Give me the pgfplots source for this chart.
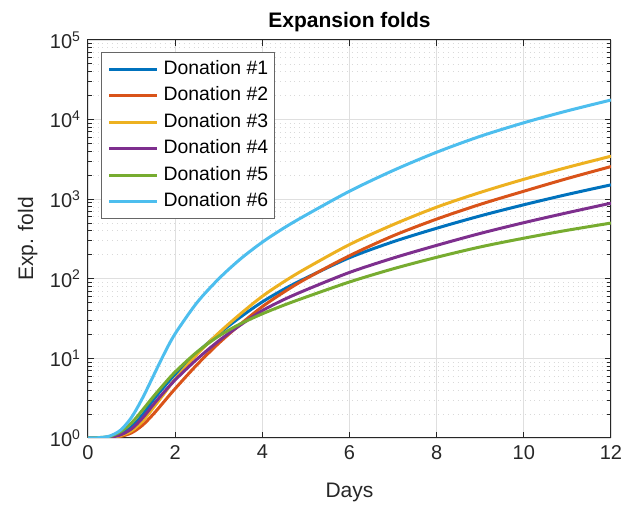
\documentclass[border=0pt]{standalone}
\usepackage{fontspec}
\setmainfont{Liberation Sans}
\usepackage{pgfplots}
\usepackage{pgfplotstable}
\pgfplotsset{compat=1.18}

\definecolor{m1}{rgb}{0,0.447,0.741}
\definecolor{m2}{rgb}{0.850,0.325,0.098}
\definecolor{m3}{rgb}{0.929,0.694,0.125}
\definecolor{m4}{rgb}{0.494,0.184,0.556}
\definecolor{m5}{rgb}{0.466,0.674,0.188}
\definecolor{m6}{rgb}{0.301,0.745,0.933}

% expansion fold per donation
\pgfplotstableread{
x     d1     d2     d3     d4     d5     d6
0     1      1      1      1      1      1
0.25  1.007  1.002  1.002  1.005  1.012  1.009
0.5   1.028  1.009  1.014  1.023  1.047  1.059
0.75  1.122  1.047  1.072  1.096  1.202  1.259
1     1.380  1.161  1.230  1.303  1.549  1.820
1.25  1.950  1.445  1.622  1.778  2.239  3.162
1.5   3.020  1.995  2.399  2.630  3.311  6.026
1.75  4.416  2.884  3.631  3.802  4.786  11.48
2     6.310  4.169  5.495  5.370  6.761  20.42
2.5   11.75  8.318  11.22  9.772  12.02  50.12
3     20.42  15.49  20.89  16.60  19.05  100.0
3.5   33.11  26.92  36.31  26.30  27.23  177.8
4     51.29  44.67  60.26  39.81  36.31  288.4
4.5   74.13  68.39  92.26  54.95  46.77  436.5
5     102.3  100.0  134.9  72.44  58.88  631.0
6     184.1  195.0  269.2  120.2  91.20  1259
7     291.7  346.7  478.6  182.0  133.4  2291
8     431.5  562.3  794.3  263.0  186.2  3891
9     616.6  861.0  1216   371.5  251.2  6166
10    851.1  1259   1778   507.0  323.6  9120
11    1148   1820   2512   676.1  407.4  12882
12    1514   2570   3467   891.3  501.2  17620
}\folds

\begin{document}
\begin{tikzpicture}
  \begin{axis}[
    name=ax, at={(0,0)}, anchor=south west,
    scale only axis, width=261.5pt, height=199pt,
    xmin=0, xmax=12, ymin=1, ymax=1e5, ymode=log,
    xtick={0,2,...,12},
    ytick={1,10,100,1000,10000,100000},
    yticklabels={10\textsuperscript{0},10\textsuperscript{1},10\textsuperscript{2},
                 10\textsuperscript{3},10\textsuperscript{4},10\textsuperscript{5}},
    /pgf/number format/assume math mode=true,
    tick align=inside,
    major tick length=3pt, minor tick length=1.8pt,
    xmajorgrids, ymajorgrids, yminorgrids,
    major grid style={gray!25, line width=0.4pt},
    minor grid style={gray!30, dotted, line width=0.4pt},
    axis line style={black!85, line width=0.5pt},
    every tick/.style={black!85, line width=0.5pt},
    tick label style={font=\fontsize{10}{12}\selectfont, text=black!85},
    title={Expansion folds},
    every axis title/.style={at={(axis description cs:0.5,1)}, anchor=base,
      yshift=6pt, font=\fontsize{10.5}{12}\selectfont\bfseries, text=black},
    xlabel={Days}, ylabel={Exp. fold},
    label style={font=\fontsize{10.5}{12}\selectfont, text=black!85},
    xlabel style={at={(axis description cs:0.5,0)}, anchor=base, yshift=-30pt},
    ylabel style={at={(axis description cs:-0.105,0.5)}, anchor=base},
    legend cell align=left,
    legend image code/.code={\draw[#1] (0pt,0pt) -- (24pt,0pt);},
    legend style={at={(axis description cs:0.025,0.97)}, anchor=north west,
      font=\fontsize{9.7}{11}\selectfont, text=black, draw=black!60,
      line width=0.5pt, inner xsep=3pt, inner ysep=4pt,
      nodes={inner sep=0pt, text height=7pt, text depth=2pt},
      row sep=4.2pt, column sep=2.5pt},
    every axis plot/.append style={line width=1.5pt, smooth},
  ]
    \addplot[m1] table[x=x, y=d1] {\folds};
    \addlegendentry{Donation \#1}
    \addplot[m2] table[x=x, y=d2] {\folds};
    \addlegendentry{Donation \#2}
    \addplot[m3] table[x=x, y=d3] {\folds};
    \addlegendentry{Donation \#3}
    \addplot[m4] table[x=x, y=d4] {\folds};
    \addlegendentry{Donation \#4}
    \addplot[m5] table[x=x, y=d5] {\folds};
    \addlegendentry{Donation \#5}
    \addplot[m6] table[x=x, y=d6] {\folds};
    \addlegendentry{Donation \#6}
  \end{axis}
  \pgfresetboundingbox
  \path (-44pt,-34pt) rectangle (267pt,219pt);
\end{tikzpicture}
\end{document}
